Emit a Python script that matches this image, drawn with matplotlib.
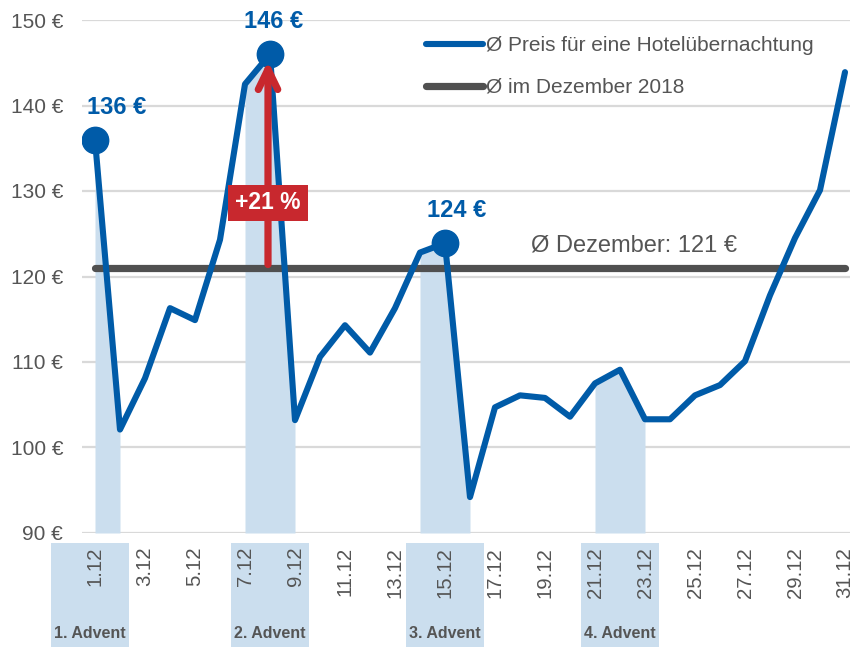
import matplotlib
matplotlib.use("Agg")
import matplotlib.pyplot as plt
from matplotlib.patches import Rectangle
import numpy as np

plt.rcParams['font.family'] = ['Liberation Sans', 'DejaVu Sans']

# ---- data ----
days = list(range(1, 32))
prices = [136.0, 102.1, 108.1, 116.3, 114.9, 124.3, 142.5, 146.0, 103.2, 110.6,
          114.3, 111.1, 116.3, 122.8, 123.9, 94.2, 104.7, 106.1, 105.8, 103.6,
          107.5, 109.1, 103.3, 103.3, 106.1, 107.3, 110.1, 117.8, 124.5, 130.1,
          143.9]
avg_december = 121
shade_ranges = [(1, 2), (7, 9), (14, 16), (21, 23)]
advent_labels = ["1. Advent", "2. Advent", "3. Advent", "4. Advent"]
advent_box_centers = [0.8, 8.0, 15.0, 22.0]
highlight_days = [1, 8, 15]
tick_days = list(range(1, 32, 2))
tick_labels = [f"{d}.12" for d in tick_days]
yticks = [90, 100, 110, 120, 130, 140, 150]
ytick_labels = [f"{v} €" for v in yticks]
legend_labels = ["Ø Preis für eine Hotelübernachtung", "Ø im Dezember 2018"]
pct_label = "+21 %"

BLUE = "#005BA8"
SHADE = "#CBDEEE"
DARK = "#505050"
RED = "#C8282E"
TXT = "#555555"
GRID = "#D9D9D9"

fig = plt.figure(figsize=(8.5, 6.47), dpi=100)
H = 647.0
ax = fig.add_axes([82 / 850, 1 - 533 / H, 1 - 82 / 850, (533 - 20) / H])
ax.set_xlim(0.48, 31.2)
ax.set_ylim(90, 150)

for s in ax.spines.values():
    s.set_visible(False)
ax.set_yticks(yticks)
ax.set_yticklabels(ytick_labels, fontsize=15, color=TXT)
ax.yaxis.grid(True, color=GRID, lw=1.6)
ax.set_axisbelow(True)
ax.tick_params(axis='y', length=0, pad=13.5)
ax.set_xticks(tick_days)
ax.set_xticklabels(tick_labels, rotation=90, fontsize=14.7, color=TXT, va='top')
ax.tick_params(axis='x', length=0, pad=10)

x = np.array(days, dtype=float)
y = np.array(prices)
for a, b in shade_ranges:
    m = (x >= a) & (x <= b)
    ax.fill_between(x[m], 90, y[m], color=SHADE, lw=0, zorder=1)

ax.plot([days[0], days[-1]], [avg_december, avg_december], color=DARK, lw=5.2,
        solid_capstyle='round', zorder=3, label=legend_labels[1])
ax.plot(x, y, color=BLUE, lw=4.4, solid_joinstyle='round',
        solid_capstyle='round', zorder=4, label=legend_labels[0])
hx = [d for d in highlight_days]
hy = [prices[d - 1] for d in highlight_days]
ax.plot(hx, hy, 'o', color=BLUE, ms=19, zorder=5)

# value labels
offs = [(0.85, 3.8), (0.15, 3.8), (0.45, 3.8)]
for (d, v), (dx, dy) in zip(zip(hx, hy), offs):
    ax.text(d + dx, v + dy, f"{v:.0f} €", color=BLUE, fontsize=17,
            fontweight='bold', ha='center', va='center', zorder=6, clip_on=False)

# arrow + percent label
peak = prices[7]
ax.annotate("", xy=(7.92, peak - 0.8), xytext=(7.92, avg_december + 0.4),
            arrowprops=dict(arrowstyle="->,head_length=1.45,head_width=0.7",
                            color=RED, lw=5.2, capstyle='round', joinstyle='round',
                            shrinkA=0, shrinkB=0), zorder=6)
ax.text(7.92, 128.6, pct_label, color='white', fontsize=16.5, fontweight='bold',
        ha='center', va='center', zorder=7,
        bbox=dict(boxstyle='square,pad=0.3', fc=RED, ec='none'))

ax.text(22.55, 123.6, f"Ø Dezember: {avg_december} €", color=TXT, fontsize=17,
        ha='center', va='center', zorder=6)

# advent boxes below axis
trans = ax.get_xaxis_transform()
box_w = 3.1
y_top = (533 - 543) / 513.0
y_bot = (533 - 660) / 513.0
for c, lab in zip(advent_box_centers, advent_labels):
    p = Rectangle((c - box_w / 2, y_bot), box_w, y_top - y_bot,
                  transform=trans, fc=SHADE, ec='none', clip_on=False, zorder=0)
    ax.add_patch(p)
    ax.text(c, (533 - 633) / 513.0, lab, transform=trans, ha='center', va='center',
            fontsize=11.5, fontweight='bold', color=TXT, clip_on=False)

lines = ax.get_lines()
leg = ax.legend(handles=[lines[1], lines[0]], labels=legend_labels,
                loc='upper left', bbox_to_anchor=(426 / 850, 1 - 36 / H),
                bbox_transform=fig.transFigure, frameon=False, fontsize=15,
                handlelength=2.75, handletextpad=0.15, labelspacing=1.1,
                borderpad=0, borderaxespad=0)
for t in leg.get_texts():
    t.set_color(TXT)

fig.savefig("out.png", dpi=100)
